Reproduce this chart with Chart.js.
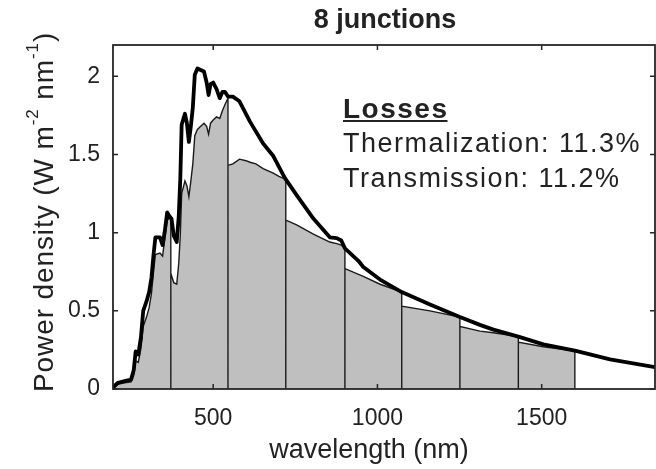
<!DOCTYPE html>
<html>
<head>
<meta charset="utf-8">
<script src="https://cdn.jsdelivr.net/npm/chart.js@4.4.1/dist/chart.umd.min.js"></script>
<style>
  html, body { margin: 0; padding: 0; background: #fff; }
</style>
</head>
<body>
<canvas id="chart" width="656" height="469"></canvas>
<script>
// 光谱（粗线）
var spectrumWave = [195, 210, 230, 250, 258, 264, 272, 280, 287, 297, 305, 312, 318, 324, 338, 346, 352, 360, 368, 373,
    380, 389, 395, 400, 404, 414, 420, 426, 432, 438, 444, 452, 462, 472, 480, 486, 492, 500, 510, 520,
    528, 536, 545, 560, 580, 612, 652, 683, 718, 754, 805, 855, 876, 890, 901, 942, 957, 1008, 1074, 1160,
    1251, 1312, 1353, 1429, 1505, 1601, 1708, 1845];
var spectrumPower = [0.01, 0.04, 0.05, 0.06, 0.12, 0.24, 0.22, 0.33, 0.50, 0.56, 0.62, 0.71, 0.85, 0.97, 0.97, 0.92, 1.00, 1.13, 1.10, 1.09,
    0.98, 0.94, 1.10, 1.35, 1.69, 1.76, 1.70, 1.58, 1.68, 1.80, 2.01, 2.05, 2.04, 2.03, 1.96, 1.88, 1.95, 1.96, 1.92, 1.86,
    1.90, 1.90, 1.87, 1.87, 1.84, 1.71, 1.57, 1.49, 1.35, 1.24, 1.09, 0.97, 0.965, 0.95, 0.90, 0.82, 0.78, 0.70, 0.62, 0.54,
    0.46, 0.41, 0.38, 0.335, 0.285, 0.245, 0.19, 0.14];

// 各结转换功率（灰色区域），每个带隙处落到 0 再回升
var bandWave = [195, 210, 230, 250, 258, 264, 272, 280, 287, 297, 305, 312, 318, 324, 338, 346, 352, 360, 371,
    371, 371, 380, 389, 395, 400, 404, 414, 420, 426, 432, 438, 444, 452, 462, 472, 480, 486, 492, 500, 510, 520, 528, 536, 545,
    545, 545, 560, 580, 600, 612, 630, 652, 683, 700, 721,
    721, 721, 754, 805, 855, 876, 890, 901,
    901, 901, 957, 1008, 1074,
    1074, 1074, 1160, 1251,
    1251, 1251, 1312, 1353, 1429,
    1429, 1429, 1505, 1601,
    1601];
var bandPower = [0.0, 0.03, 0.04, 0.045, 0.09, 0.18, 0.17, 0.26, 0.40, 0.46, 0.52, 0.61, 0.74, 0.86, 0.87, 0.85, 0.95, 1.08, 1.10,
    0, 0.74, 0.68, 0.67, 0.80, 0.99, 1.25, 1.33, 1.30, 1.23, 1.33, 1.44, 1.62, 1.66, 1.68, 1.70, 1.68, 1.63, 1.70, 1.72, 1.74, 1.73, 1.78, 1.82, 1.86,
    0, 1.43, 1.44, 1.47, 1.46, 1.45, 1.44, 1.41, 1.38, 1.36, 1.34,
    0, 1.08, 1.05, 0.99, 0.94, 0.93, 0.92, 0.90,
    0, 0.77, 0.72, 0.67, 0.62,
    0, 0.53, 0.50, 0.46,
    0, 0.40, 0.37, 0.36, 0.335,
    0, 0.30, 0.27, 0.245,
    0];

var xTickValues = [500, 1000, 1500];
var yTickValues = [0, 0.5, 1, 1.5, 2];

var titleText = '8 junctions';
var xLabel = 'wavelength (nm)';
var lossTitle = 'Losses';
var lossLines = ['Thermalization: 11.3%', 'Transmission: 11.2%'];

var textColor = '#222222';
var fontName = '"Liberation Sans", Arial, sans-serif';

function toPoints(xs, ys) {
    return xs.map(function(x, i) { return { x: x, y: ys[i] }; });
}

// 边框和朝内的刻度线
var framePlugin = {
    id: 'frame',
    afterDraw: function(chart) {
        var ctx = chart.ctx;
        var a = chart.chartArea;
        var xs = chart.scales.x;
        var ys = chart.scales.y;
        ctx.save();
        ctx.strokeStyle = '#262626';
        ctx.lineWidth = 1.8;
        ctx.strokeRect(a.left, a.top, a.right - a.left, a.bottom - a.top);
        ctx.lineWidth = 1.5;
        ctx.beginPath();
        xTickValues.forEach(function(v) {
            var px = xs.getPixelForValue(v);
            ctx.moveTo(px, a.bottom); ctx.lineTo(px, a.bottom - 5);
            ctx.moveTo(px, a.top); ctx.lineTo(px, a.top + 5);
        });
        yTickValues.forEach(function(v) {
            var py = ys.getPixelForValue(v);
            ctx.moveTo(a.left, py); ctx.lineTo(a.left + 5, py);
            ctx.moveTo(a.right, py); ctx.lineTo(a.right - 5, py);
        });
        ctx.stroke();
        ctx.restore();
    }
};

// 标题、轴标签和损失说明
var textPlugin = {
    id: 'texts',
    afterDraw: function(chart) {
        var ctx = chart.ctx;
        ctx.save();
        ctx.fillStyle = textColor;
        ctx.textBaseline = 'alphabetic';

        // 标题
        ctx.font = 'bold 27px ' + fontName;
        ctx.textAlign = 'center';
        ctx.fillText(titleText, 385, 28);

        // x 轴标签
        ctx.font = '27px ' + fontName;
        ctx.fillText(xLabel, 369, 458);

        // y 轴标签（带上标）
        ctx.save();
        ctx.translate(53, 392);
        ctx.rotate(-Math.PI / 2);
        ctx.textAlign = 'left';
        ctx.letterSpacing = '0.9px';
        var pos = 0;
        function part(txt, size, dy) {
            ctx.font = size + 'px ' + fontName;
            ctx.fillText(txt, pos, dy);
            pos += ctx.measureText(txt).width;
        }
        part('Power density (W m', 28, 0);
        part('-2', 17, -15);
        part(' nm', 28, 0);
        part('-1', 17, -15);
        part(')', 28, 0);
        ctx.restore();

        // 损失说明
        ctx.textAlign = 'left';
        ctx.letterSpacing = '1.5px';
        ctx.font = 'bold 28px ' + fontName;
        ctx.fillText(lossTitle, 343, 118);
        var w = ctx.measureText(lossTitle).width;
        ctx.fillRect(343, 120, w - 1, 2);
        ctx.font = '27px ' + fontName;
        ctx.fillText(lossLines[0], 343, 152);
        ctx.fillText(lossLines[1], 343, 187);
        ctx.restore();
    }
};

var ctx = document.getElementById('chart').getContext('2d');
var chart = new Chart(ctx, {
    type: 'scatter',
    data: {
        datasets: [
            {
                label: 'Spectrum',
                data: toPoints(spectrumWave, spectrumPower),
                showLine: true,
                borderColor: '#000000',
                borderWidth: 3.8,
                borderJoinStyle: 'round',
                borderCapStyle: 'round',
                pointRadius: 0,
                fill: false,
                order: 0,
            },
            {
                label: 'Converted',
                data: toPoints(bandWave, bandPower),
                showLine: true,
                borderColor: '#1a1a1a',
                borderWidth: 1.4,
                backgroundColor: '#bfbfbf',
                fill: 'origin',
                pointRadius: 0,
                order: 1,
            },
        ],
    },
    options: {
        responsive: false,
        animation: false,
        layout: {
            padding: { top: 45, right: 1, left: 0, bottom: 0 },
        },
        plugins: {
            legend: { display: false },
            tooltip: { enabled: false },
            title: { display: false },
        },
        scales: {
            x: {
                type: 'linear',
                min: 195,
                max: 1845,
                grid: { display: false, drawTicks: false },
                border: { display: false },
                afterBuildTicks: function(scale) {
                    scale.ticks = xTickValues.map(function(v) { return { value: v }; });
                },
                afterFit: function(scale) { scale.height = 80; },
                ticks: {
                    font: { family: fontName, size: 23 },
                    color: textColor,
                    padding: 16,
                    maxRotation: 0,
                    callback: function(v) { return String(v); },
                },
            },
            y: {
                type: 'linear',
                min: 0,
                max: 2.2,
                grid: { display: false, drawTicks: false },
                border: { display: false },
                afterBuildTicks: function(scale) {
                    scale.ticks = yTickValues.map(function(v) { return { value: v }; });
                },
                afterFit: function(scale) { scale.width = 113; },
                ticks: {
                    font: { family: fontName, size: 23 },
                    color: textColor,
                    padding: 13,
                    callback: function(v) { return String(v); },
                },
            },
        },
    },
    plugins: [framePlugin, textPlugin],
});
</script>
</body>
</html>
